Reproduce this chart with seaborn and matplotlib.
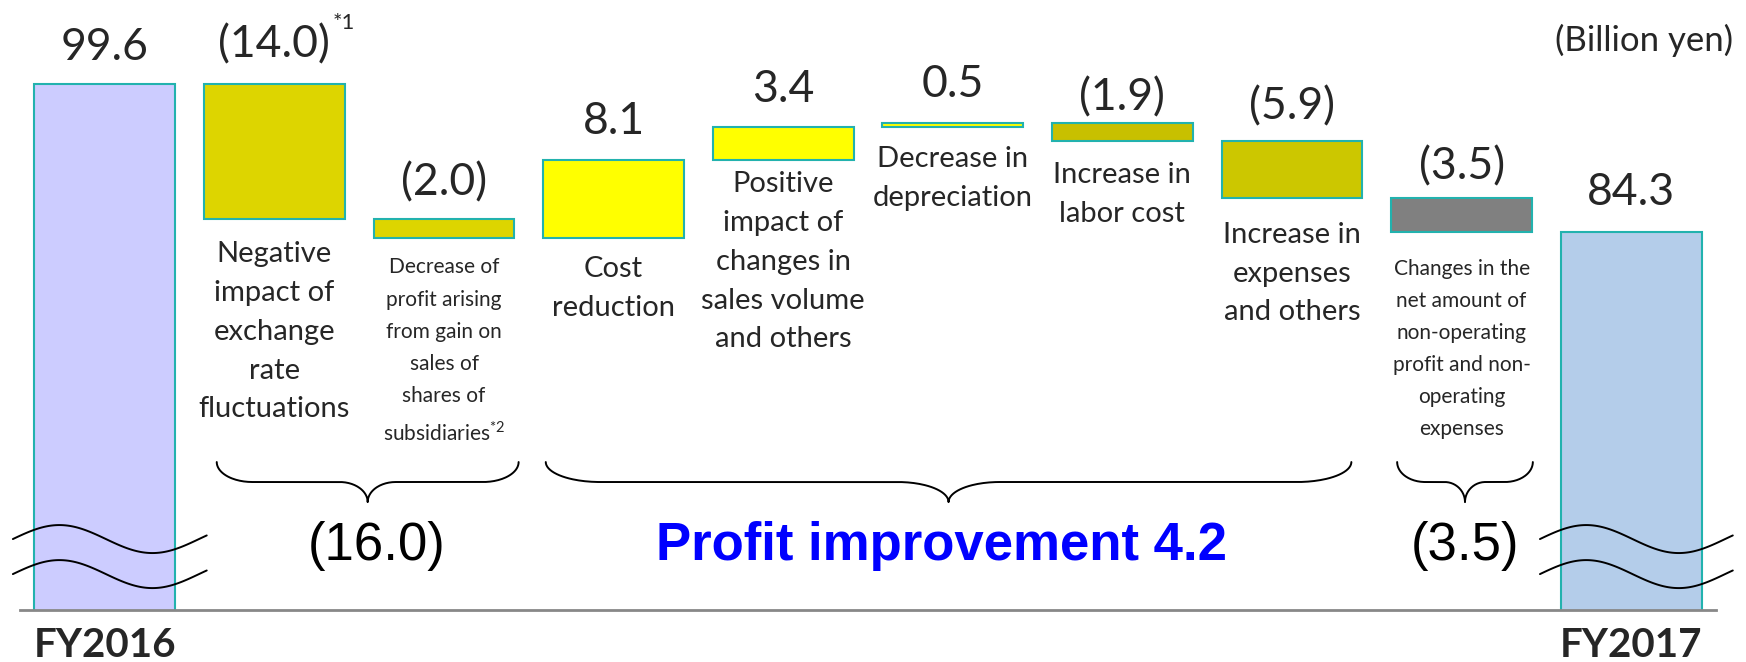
import numpy as np
import pandas as pd
import matplotlib
matplotlib.use("Agg")
import matplotlib.pyplot as plt
import seaborn as sns

# Ordinary income bridge, FY2016 -> FY2017 (billion yen)
start_name = "FY2016"
end_name = "FY2017"
start_value = 99.6
end_value = 84.3
step_names = [
    "Negative\nimpact of\nexchange\nrate\nfluctuations",
    "Decrease of\nprofit arising\nfrom gain on\nsales of\nshares of\nsubsidiaries$^{*2}$",
    "Cost\nreduction",
    "Positive\nimpact of\nchanges in\nsales volume\nand others",
    "Decrease in\ndepreciation",
    "Increase in\nlabor cost",
    "Increase in\nexpenses\nand others",
    "Changes in the\nnet amount of\nnon-operating\nprofit and non-\noperating\nexpenses",
]
step_values = [-14.0, -2.0, 8.1, 3.4, 0.5, -1.9, -5.9, -3.5]
group_titles = ["", "Profit improvement ", ""]
group_values = [-16.0, 4.2, -3.5]

# look
bar_colors = ["#CCCCFF", "#DDD500", "#DDD500", "#FFFF00", "#FFFF00", "#FFFF00",
              "#C8C000", "#CCC700", "#808080", "#B4CDEA"]
edge_color = "#22B2AE"
value_pad = [24, 27, 24, 26, 25, 26, 12, 21, 18, 27]   # px, bar top -> label baseline
name_pad = [0, 22, 19, 18, 11, 19, 21, 24, 27, 0]      # px, bar bottom -> label top
name_size = [0, 21, 15, 21, 21, 21, 21, 21, 15, 0]
group_span = [(0.66, 2.44), (2.60, 7.35), (7.62, 8.42)]
group_radius = [(0.21, 0.165), (0.32, 0.30), (0.165, 0.12)]
group_shift = [0.05, -0.04, 0.0]
group_color = ["black", "#0000FF", "black"]
group_weight = ["normal", "bold", "normal"]


def fmt(v):
    return f"({abs(v):.1f})" if v < 0 else f"{v:.1f}"


levels = np.cumsum([start_value] + step_values)
bottoms = [0.0] + [min(levels[i], levels[i + 1]) for i in range(len(step_values))] + [0.0]
heights = [start_value] + [abs(v) for v in step_values] + [end_value]
tops = [b + h for b, h in zip(bottoms, heights)]
shown = [start_value] + step_values + [end_value]

df = pd.DataFrame({"step": [start_name] + step_names + [end_name], "height": heights})

sns.set_style("white")
plt.rcParams["font.family"] = ["Lato", "DejaVu Sans"]
plt.rcParams["mathtext.fontset"] = "custom"
plt.rcParams["mathtext.rm"] = "Lato"

fig = plt.figure(figsize=(17.46, 6.62), dpi=100)
ax = fig.add_axes([20 / 1746, 52 / 662, 1696 / 1746, 610 / 662])

sns.barplot(data=df, x="step", y="height", bottom=bottoms, width=0.83,
            color=bar_colors[0], saturation=1, errorbar=None,
            edgecolor=edge_color, linewidth=1.5, ax=ax)
for patch, c in zip(ax.patches, bar_colors):
    patch.set_facecolor(c)

ax.set_xlim(-0.5, 9.5)
ax.set_ylim(45.1, 108.3)

# value labels
for i, (top, v) in enumerate(zip(tops, shown)):
    t = ax.annotate(fmt(v), xy=(i, top), xytext=(0, value_pad[i]),
                    textcoords="offset pixels", ha="center", va="baseline",
                    fontsize=32)
    if i == 1:
        ax.annotate("*1", xy=(1, 1), xycoords=t, xytext=(2, 11),
                    textcoords="offset pixels", ha="left", va="top", fontsize=16)

# step names under the floating bars
for i in range(1, len(step_names) + 1):
    ax.annotate(step_names[i - 1], xy=(i, bottoms[i]), xytext=(0, -name_pad[i]),
                textcoords="offset pixels", ha="center", va="top",
                fontsize=name_size[i], linespacing=1.61 if name_size[i] > 18 else 1.76)

# axis breaks on the two total bars
t = np.linspace(0, 1, 120)
for x0, x1 in [(-0.542, 0.601), (8.462, 9.599)]:
    for mid in (52.45, 48.82):
        ax.plot(x0 + (x1 - x0) * t, mid + 1.45 * np.cos(2 * np.pi * (t - 0.24) / 0.96),
                color="black", lw=1.4, clip_on=False, zorder=5)


# curly braces grouping the steps
def brace(x0, x1, rx, rt, y_top=60.43, y_line=58.36, y_tip=56.28):
    xm = (x0 + x1) / 2
    th = np.linspace(0, np.pi / 2, 40)
    ry = y_top - y_line
    rty = y_line - y_tip
    xs = np.concatenate([x0 + rx - rx * np.cos(th),
                         xm - rt + rt * np.sin(th),
                         xm + rt - rt * np.cos(th),
                         x1 - rx + rx * np.sin(th)])
    ys = np.concatenate([y_top - ry * np.sin(th),
                         y_tip + rty * np.cos(th),
                         y_tip + rty * np.sin(th),
                         y_top - ry * np.cos(th)])
    ax.plot(xs, ys, color="black", lw=1.4)
    return xm


for k in range(3):
    xm = brace(*group_span[k], *group_radius[k])
    ax.text(xm + group_shift[k], 50.27, group_titles[k] + fmt(group_values[k]),
            ha="center", va="baseline", fontsize=38, color=group_color[k],
            fontweight=group_weight[k], family=["Liberation Sans", "DejaVu Sans"])

ax.set_xticks(range(10))
ax.set_xticklabels([start_name] + [""] * len(step_names) + [end_name],
                   fontsize=29, fontweight="bold")
ax.tick_params(axis="x", length=0, pad=12)
ax.set_yticks([])
ax.set_xlabel("")
ax.set_ylabel("")
for s in ["top", "left", "right"]:
    ax.spines[s].set_visible(False)
ax.spines["bottom"].set_color("#888888")
ax.spines["bottom"].set_linewidth(2)

fig.text(1733 / 1746, 1 - 40 / 662, "(Billion yen)", ha="right", va="center", fontsize=25)

fig.savefig("out.png", dpi=100)
